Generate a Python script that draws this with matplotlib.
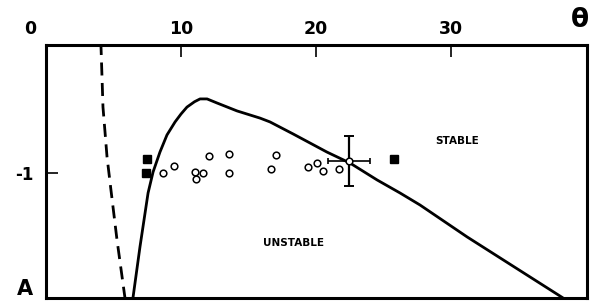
import matplotlib
matplotlib.use("Agg")
import numpy as np
import matplotlib.pyplot as plt
import matplotlib.transforms as mtransforms

# ---- data ----
x_ticks = [0, 10, 20, 30]
x_tick_labels = ["0", "10", "20", "30"]
y_ticks = [-1]
y_tick_labels = ["-1"]

# stability boundary (solid)
curve_x = [6.44, 6.96, 7.56, 7.93, 8.44, 8.96, 9.56, 10.00, 10.44, 11.0, 11.41, 11.93,
           12.67, 14.15, 15.85, 16.59, 18.30, 20.81, 22.52, 24.52, 26.22, 27.70,
           31.19, 38.30]
curve_y = [-1.490, -1.290, -1.079, -0.997, -0.919, -0.852, -0.801, -0.770, -0.743,
           -0.722, -0.711, -0.711, -0.727, -0.758, -0.786, -0.801, -0.848, -0.919,
           -0.962, -1.028, -1.079, -1.126, -1.251, -1.490]

# dashed curve
dash_x = [4.07, 4.12, 4.17, 4.22, 4.37, 4.52, 4.81, 5.26, 5.85]
dash_y = [-0.50, -0.58, -0.66, -0.743, -0.84, -0.938, -1.067, -1.263, -1.49]

# open circles
circ_x = [8.67, 9.48, 11.04, 11.11, 11.63, 12.07, 13.56, 13.56, 16.67, 17.04,
          19.41, 20.07, 20.52, 21.70]
circ_y = [-1.000, -0.973, -0.997, -1.024, -1.000, -0.934, -0.927, -1.000, -0.985,
          -0.930, -0.977, -0.962, -0.993, -0.985]

# filled squares
sq_x = [7.48, 7.41, 25.78]
sq_y = [-0.946, -1.000, -0.946]

# point with error bars
err_x = [22.44]
err_y = [-0.954]
err_dx = [1.55]
err_dy = [0.098]

# ---- figure ----
fig = plt.figure(figsize=(6.0, 3.01), dpi=100)
ax = fig.add_axes([46/600, 3/301, 541/600, 253/301])
ax.set_xlim(0, 40.07)
ax.set_ylim(-1.49, -0.5)

for s in ax.spines.values():
    s.set_linewidth(2.2)
    s.set_color("black")

ax.plot(curve_x, curve_y, color="black", lw=2.0, solid_capstyle="butt",
        solid_joinstyle="round", zorder=3)

# dashed curve: split the polyline into dashes along its screen length
pts = ax.transData.transform(np.column_stack([dash_x, dash_y]))
seg = np.hypot(np.diff(pts[:, 0]), np.diff(pts[:, 1]))
cum = np.concatenate([[0.0], np.cumsum(seg)])
total = cum[-1]
on_px, off_px = 13.0, 7.5
start = -3.0
inv = ax.transData.inverted()
while start < total:
    a = max(start, 0.0)
    b = min(start + on_px, total)
    if b > a:
        pos = [a] + [c for c in cum if a < c < b] + [b]
        xs = np.interp(pos, cum, pts[:, 0])
        ys = np.interp(pos, cum, pts[:, 1])
        d = inv.transform(np.column_stack([xs, ys]))
        ax.plot(d[:, 0], d[:, 1], color="black", lw=2.0, solid_capstyle="butt",
                zorder=3)
    start += on_px + off_px

ax.plot(circ_x, circ_y, linestyle="none", marker="o", ms=4.8, mfc="white",
        mec="black", mew=1.1, zorder=4)
ax.plot(sq_x, sq_y, linestyle="none", marker="s", ms=5.2, mfc="black",
        mec="black", zorder=4)

ax.errorbar(err_x, err_y, xerr=err_dx, fmt="none", ecolor="black", elinewidth=1.2,
            capsize=2, capthick=1.2, zorder=4)
ax.errorbar(err_x, err_y, yerr=err_dy, fmt="none", ecolor="black", elinewidth=1.6,
            capsize=3.5, capthick=1.4, zorder=4)
ax.plot(err_x, err_y, linestyle="none", marker="o", ms=4.8, mfc="white",
        mec="black", mew=1.1, zorder=5)

# ticks
ax.xaxis.tick_top()
ax.set_xticks(x_ticks)
ax.set_xticklabels(x_tick_labels)
ax.tick_params(axis="x", which="both", direction="in", length=8.5, width=1.2,
               pad=5, labelsize=12.5, top=True, bottom=False)
ax.set_yticks(y_ticks)
ax.set_yticklabels(y_tick_labels)
ax.tick_params(axis="y", which="both", direction="in", length=8.5, width=1.2,
               pad=9, labelsize=12, left=True, right=False)
for lab in ax.get_xticklabels() + ax.get_yticklabels():
    lab.set_fontweight("bold")
    lab.set_fontfamily("DejaVu Sans")
# shift the "0" label to the left as in the reference
xl = ax.get_xticklabels()
xl[0].set_transform(xl[0].get_transform() +
                    mtransforms.ScaledTranslation(-16/100, 0, fig.dpi_scale_trans))

ax.text(30.44, -0.876, "STABLE", fontsize=7.5, fontweight="bold",
        ha="center", va="center")
ax.text(18.3, -1.275, "UNSTABLE", fontsize=7.5, fontweight="bold",
        ha="center", va="center")

fig.text(580/600, 1 - 20/301, "θ", fontsize=19, fontweight="bold",
         ha="center", va="center")
fig.text(25/600, 1 - 299/301, "A", fontsize=15, fontweight="bold",
         ha="center", va="bottom")

fig.savefig("out.png", dpi=100)
